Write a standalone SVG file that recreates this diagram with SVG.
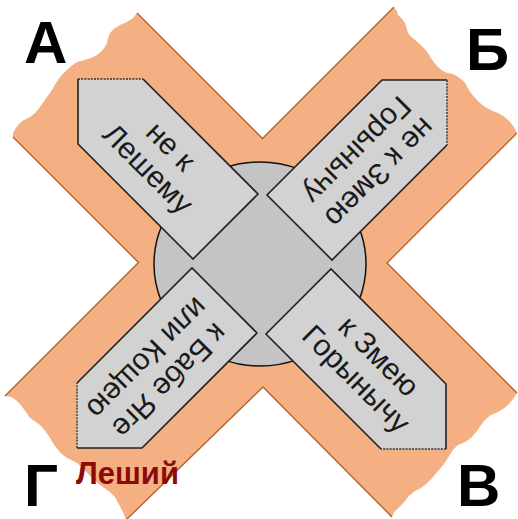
<svg xmlns="http://www.w3.org/2000/svg" xmlns:xlink="http://www.w3.org/1999/xlink" width="518" height="519" viewBox="0 0 518 519">
  <style>
    .band { fill: #F4B083; stroke: none; }
    .bandEdge { fill: none; stroke: #B5642D; stroke-width: 1.4; }
    .hub { fill: #C4C4C4; stroke: #111; stroke-width: 1.5; }
    .signFill { fill: #D2D2D2; stroke: none; }
    .signEdge { fill: none; stroke: #222; stroke-width: 1.6; stroke-linejoin: miter; }
    .signTorn { fill: none; stroke: #333; stroke-width: 1.4; stroke-dasharray: 2 1.2; }
    .signText { font-family: "Liberation Sans", Arial, sans-serif; font-size: 30px; fill: #1a1a1a; text-anchor: middle; }
    .corner { font-family: "Liberation Sans", Arial, sans-serif; font-size: 60px; font-weight: bold; fill: #000; }
    .leshiy { font-family: "Liberation Sans", Arial, sans-serif; font-size: 31px; font-weight: bold; fill: #8B0A0A; }
  </style>
  <defs>
    <g id="signShape">
      <polygon class="signFill" points="-184,-185 -119,-185 -4,-70 -69,-5 -184,-120"/>
      <polyline class="signEdge" points="-119,-185 -4,-70 -69,-5 -184,-120 -184,-185"/>
      <line class="signTorn" x1="-184" y1="-185" x2="-119" y2="-185"/>
    </g>
  </defs>

  <g id="crossroads">
    <path class="band" d="M137,13 L262.5,138.5 L394,7 Q398,12 398,15 Q403,19 405,23 Q407,29 408,33 Q412,38 415,40 Q423,46 428,53 Q433,62 438,67 Q443,72 448,73 Q455,74 458,77 Q463,80 465,83 Q468,89 471,93 Q478,102 485,107 Q492,111 498,113 Q506,117 511,123 Q515,128 517,133 L387,263 L517,393 Q513,400 508,405 Q500,412 491,415 Q485,419 481,425 Q476,433 471,438 Q465,443 458,445 Q452,450 448,458 Q443,466 438,471 Q432,479 425,485 Q420,489 415,491 Q409,495 405,501 Q400,507 395,511 Q393,514 392,517 L263,387 L126,520 Q124,514 122,510 Q118,503 115,497 Q109,491 103,487 Q97,483 92,478 Q84,469 77,463 Q71,460 67,458 Q61,454 58,450 Q53,444 50,438 Q45,430 40,425 Q34,421 30,418 Q26,412 23,408 Q18,401 13,398 Q9,396 5,396 L138.5,262.5 L13,137 Q13,135 13,133 Q16,127 20,123 Q25,119 30,117 Q36,113 40,107 Q45,99 50,93 Q54,86 58,80 Q62,74 67,70 Q72,65 77,62 Q90,59 97,55 Q104,50 107,43 Q108,37 110,33 Q114,28 120,25 Q128,22 133,18 Z"/>
    <path class="bandEdge" d="M137,13 L262.5,138.5 L394,7 M517,133 L387,263 L517,393 M392,517 L263,387 L126,520 M5,396 L138.5,262.5 L13,137"/>
  </g>

  <g id="hub">
    <ellipse class="hub" cx="260" cy="264" rx="106" ry="102"/>
  </g>

  <g id="sign-A">
    <use xlink:href="#signShape" href="#signShape" transform="translate(262,264)"/>
    <g transform="translate(158,159) rotate(45)">
      <text class="signText" x="0" y="-8">не к</text>
      <text class="signText" x="0" y="24">Лешему</text>
    </g>
  </g>

  <g id="sign-B">
    <use xlink:href="#signShape" href="#signShape" transform="translate(262,264) rotate(90)"/>
    <g transform="translate(367,160) rotate(135)">
      <text class="signText" x="0" y="-8">не к Змею</text>
      <text class="signText" x="0" y="24">Горынычу</text>
    </g>
  </g>

  <g id="sign-V">
    <use xlink:href="#signShape" href="#signShape" transform="translate(262,264) rotate(180)"/>
    <g transform="translate(366,369) rotate(45)">
      <text class="signText" x="0" y="-8">к Змею</text>
      <text class="signText" x="0" y="24">Горынычу</text>
    </g>
  </g>

  <g id="sign-G">
    <use xlink:href="#signShape" href="#signShape" transform="translate(262,264) rotate(270)"/>
    <g transform="translate(157,368) rotate(135)">
      <text class="signText" x="0" y="-8">к Бабе Яге</text>
      <text class="signText" x="0" y="24">или Кощею</text>
    </g>
  </g>

  <g id="labels">
    <text class="corner" x="24" y="63">А</text>
    <text class="corner" x="466" y="70">Б</text>
    <text class="corner" x="24" y="506">Г</text>
    <text class="corner" x="457" y="506">В</text>
    <text class="leshiy" x="76" y="484">Леший</text>
  </g>
</svg>
